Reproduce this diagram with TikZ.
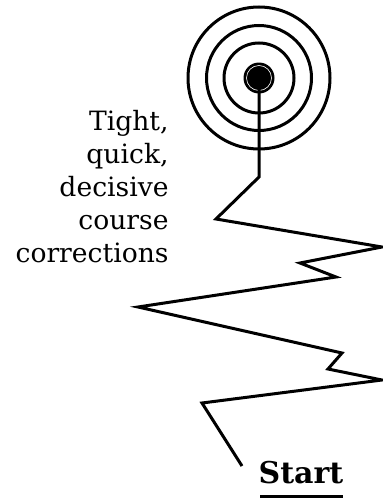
\documentclass[tikz,border=0pt]{standalone}
\usepackage{fontspec}
\setmainfont{DejaVu Serif}
\tikzset{
  ring/.style={line width=1.5pt},
  course/.style={line width=1.5pt, line join=miter},
}
\begin{document}
\begin{tikzpicture}[x=0.5pt,y=-0.5pt]
  \useasboundingbox (0,0) rectangle (383,498);

  % target
  \coordinate (goal) at (259,78);
  \foreach \r in {35,52.5,71}
    \draw[ring] (goal) circle (\r);
  \fill (goal) circle (15.5);
  \draw[white,line width=0.3pt] (goal) circle (12.5);

  % the course taken
  \coordinate (p1) at (259,177);
  \coordinate (p2) at (216,219);
  \coordinate (p3) at (382,247);
  \coordinate (p4) at (300,263);
  \coordinate (p5) at (336,277);
  \coordinate (p6) at (138,307);
  \coordinate (p7) at (342,353);
  \coordinate (p8) at (328,369);
  \coordinate (p9) at (382,380);
  \coordinate (p10) at (202,403);
  \coordinate (p11) at (242,466);
  \draw[course] (goal) -- (p1) -- (p2) -- (p3) -- (p4) -- (p5) -- (p6)
    -- (p7) -- (p8) -- (p9) -- (p10) -- (p11);

  % labels
  \node[anchor=north east, align=right, inner sep=0pt,
        font=\fontsize{13.3}{16.5}\selectfont] (note) at (169,110)
    {Tight,\\quick,\\decisive\\course\\corrections};
  \node[anchor=base, inner xsep=0pt, inner ysep=0pt,
        font=\fontsize{15}{18}\selectfont\bfseries] (start) at (301,483) {Start};
  \draw[line width=1.5pt] (260,496) -- (343,496);
\end{tikzpicture}
\end{document}
